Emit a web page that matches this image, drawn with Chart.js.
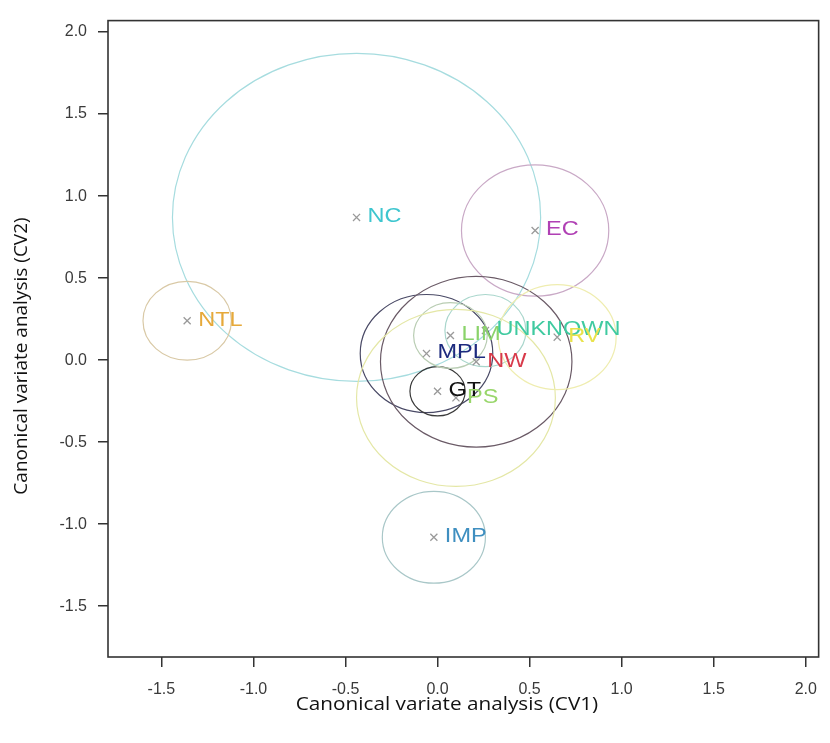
<!DOCTYPE html>
<html>
<head>
<meta charset="utf-8">
<script src="https://cdn.jsdelivr.net/npm/chart.js@4.4.1/dist/chart.umd.min.js"></script>
<style>
  html, body { margin: 0; padding: 0; background: #ffffff; }
  #wrap { width: 830px; height: 743px; position: relative; }
  canvas { display: block; }
</style>
</head>
<body>
<div id="wrap"><canvas id="c" width="830" height="743"></canvas></div>
<script>
// ---- data ----
const groups   = ['NC', 'EC', 'NTL', 'IMP', 'MPL', 'GT', 'LIM', 'UNKNOWN', 'NW', 'PS', 'RV'];
const cv1      = [-0.44, 0.53, -1.36, -0.02, -0.06, 0.00, 0.07, 0.26, 0.21, 0.10, 0.65];
const cv2      = [0.87, 0.79, 0.24, -1.08, 0.04, -0.19, 0.15, 0.18, -0.01, -0.23, 0.14];
const radius   = [1.00, 0.40, 0.24, 0.28, 0.36, 0.15, 0.20, 0.22, 0.52, 0.54, 0.32];
const labelColors  = ['#3ec6cf', '#b040b4', '#e6a93a', '#3f8fc0', '#1c2a7e', '#111111', '#8ad36a', '#3fcaa0', '#d83a4a', '#98d66a', '#e9e24a'];
const circleColors = ['#a6dcdf', '#c9a9c6', '#d9c9a6', '#a9c7c8', '#4a4a66', '#3a3a3a', '#b9cdb3', '#a9d6cc', '#6a5a66', '#e4e7a6', '#efedb0'];
const xTicks = [-1.5, -1.0, -0.5, 0.0, 0.5, 1.0, 1.5, 2.0];
const yTicks = [-1.5, -1.0, -0.5, 0.0, 0.5, 1.0, 1.5, 2.0];
const xRange = [-1.79, 2.07];
const yRange = [-1.81, 2.07];
const xTitle = 'Canonical variate analysis (CV1)';
const yTitle = 'Canonical variate analysis (CV2)';

const STRETCH = 1.12; // the reference picture is stretched horizontally

const circlePlugin = {
  id: 'circles',
  beforeDatasetsDraw(chart) {
    const {ctx, chartArea, scales: {x, y}} = chart;
    ctx.save();
    ctx.beginPath();
    ctx.rect(chartArea.left, chartArea.top, chartArea.right - chartArea.left, chartArea.bottom - chartArea.top);
    ctx.clip();
    groups.forEach((g, i) => {
      const px = x.getPixelForValue(cv1[i]);
      const py = y.getPixelForValue(cv2[i]);
      const rx = Math.abs(x.getPixelForValue(cv1[i] + radius[i]) - px);
      const ry = Math.abs(y.getPixelForValue(cv2[i] + radius[i]) - py);
      ctx.beginPath();
      ctx.ellipse(px, py, rx, ry, 0, 0, Math.PI * 2);
      ctx.strokeStyle = circleColors[i];
      ctx.lineWidth = 1.2;
      ctx.stroke();
    });
    ctx.restore();
  },
  afterDatasetsDraw(chart) {
    const {ctx, scales: {x, y}} = chart;
    ctx.save();
    ctx.font = '21px "Liberation Sans", Arial, sans-serif';
    ctx.textBaseline = 'middle';
    ctx.textAlign = 'left';
    groups.forEach((g, i) => {
      const px = x.getPixelForValue(cv1[i]);
      const py = y.getPixelForValue(cv2[i]);
      ctx.save();
      ctx.translate(px + 11, py - 1);
      ctx.scale(STRETCH, 1);
      ctx.fillStyle = labelColors[i];
      ctx.fillText(g, 0, 0);
      ctx.restore();
    });
    ctx.restore();
  },
  afterDraw(chart) {
    const {ctx, chartArea} = chart;
    ctx.save();
    ctx.strokeStyle = '#333333';
    ctx.lineWidth = 1.6;
    ctx.strokeRect(chartArea.left, chartArea.top, chartArea.right - chartArea.left, chartArea.bottom - chartArea.top);
    // axis titles
    ctx.fillStyle = '#111111';
    ctx.textAlign = 'center';
    ctx.textBaseline = 'middle';
    ctx.font = '18.5px "Open Sans", sans-serif';
    ctx.save();
    ctx.translate(447, 705);
    ctx.scale(STRETCH, 1);
    ctx.fillText(xTitle, 0, 0);
    ctx.restore();
    ctx.font = '19px "Open Sans", sans-serif';
    ctx.save();
    ctx.translate(22, 356);
    ctx.rotate(-Math.PI / 2);
    ctx.fillText(yTitle, 0, 0);
    ctx.restore();
    ctx.restore();
  }
};

const fmt = v => Number(v).toFixed(1);

new Chart(document.getElementById('c'), {
  type: 'scatter',
  data: {
    datasets: [{
      label: 'centroids',
      data: groups.map((g, i) => ({x: cv1[i], y: cv2[i]})),
      pointStyle: 'crossRot',
      pointRadius: 5,
      pointBorderColor: '#9a9a9a',
      pointBorderWidth: 1.3,
      pointHoverRadius: 5
    }]
  },
  options: {
    responsive: false,
    animation: false,
    events: [],
    layout: { padding: { left: 0, top: 17, right: 7, bottom: 0 } },
    plugins: { legend: { display: false }, tooltip: { enabled: false } },
    scales: {
      x: {
        type: 'linear',
        min: xRange[0], max: xRange[1],
        afterBuildTicks: s => { s.ticks = xTicks.map(v => ({value: v})); },
        afterFit: s => { s.height = 86; },
        border: { display: false },
        grid: { drawOnChartArea: false, drawTicks: true, tickLength: 10, color: '#333333', lineWidth: 1.5 },
        ticks: { callback: fmt, color: '#3a3a3a', font: { family: '"Liberation Sans", Arial, sans-serif', size: 16 }, padding: 13, maxRotation: 0 },
        title: { display: false }
      },
      y: {
        type: 'linear',
        min: yRange[0], max: yRange[1],
        afterBuildTicks: s => { s.ticks = yTicks.map(v => ({value: v})); },
        afterFit: s => { s.width = 108; },
        border: { display: false },
        grid: { drawOnChartArea: false, drawTicks: true, tickLength: 10, color: '#333333', lineWidth: 1.5 },
        ticks: { callback: fmt, color: '#3a3a3a', font: { family: '"Liberation Sans", Arial, sans-serif', size: 16 }, padding: 11 },
        title: { display: false }
      }
    }
  },
  plugins: [circlePlugin]
});
</script>
</body>
</html>
